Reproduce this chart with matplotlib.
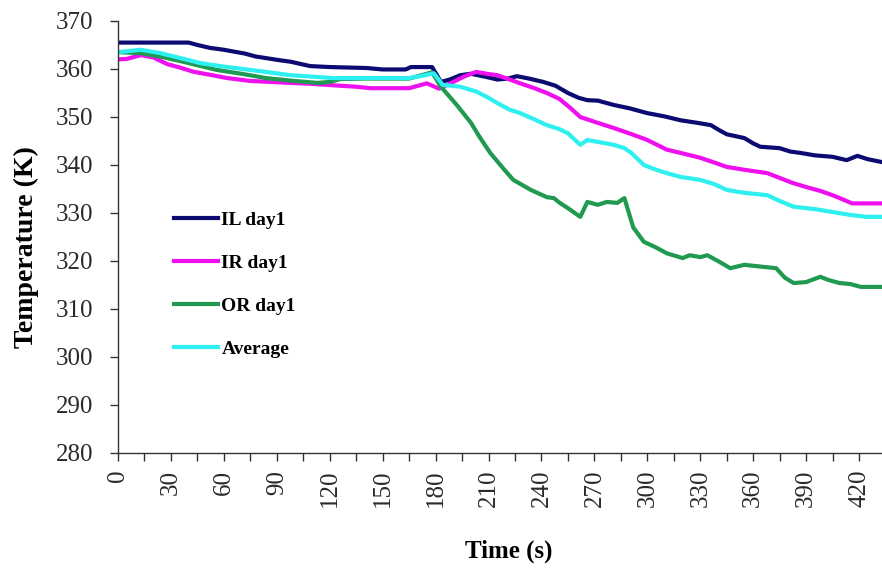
import numpy as np
import matplotlib
matplotlib.use("Agg")
import matplotlib.pyplot as plt
from matplotlib.ticker import MultipleLocator

plt.rcParams['font.family'] = ['Liberation Serif', 'DejaVu Serif']

# Temperature traces, (time s, temperature K)
il_day1 = [(0, 365.5), (40, 365.5), (45, 365.0), (52, 364.4), (60, 364.0), (66, 363.6),
           (72, 363.2), (78, 362.6), (85, 362.2), (92, 361.8), (98, 361.5), (104, 361.0),
           (109, 360.6), (120, 360.4), (141, 360.2), (150, 359.9), (163, 359.9), (166, 360.4),
           (178, 360.4), (183, 357.3), (188, 357.8), (194, 358.7), (200, 359.0), (208, 358.4),
           (215, 357.8), (221, 358.0), (226, 358.5), (233, 358.0), (241, 357.3), (248, 356.5),
           (255, 355.0), (261, 354.0), (266, 353.5), (272, 353.4), (281, 352.5), (290, 351.8),
           (300, 350.8), (310, 350.1), (319, 349.3), (328, 348.8), (336, 348.3), (341, 347.2),
           (345, 346.4), (350, 346.0), (355, 345.6), (360, 344.5), (364, 343.8), (375, 343.5),
           (381, 342.8), (387, 342.5), (395, 342.0), (405, 341.7), (413, 341.0), (419, 341.9),
           (425, 341.2), (433, 340.6)]

ir_day1 = [(0, 362.0), (5, 362.1), (13, 362.9), (20, 362.4), (28, 361.0), (35, 360.3),
           (43, 359.4), (52, 358.8), (62, 358.1), (75, 357.5), (98, 357.1), (110, 356.9),
           (122, 356.6), (135, 356.3), (143, 356.0), (165, 356.0), (175, 357.0), (182, 355.9),
           (190, 357.3), (196, 358.4), (203, 359.4), (209, 359.0), (215, 358.7), (222, 357.8),
           (228, 357.0), (236, 356.0), (243, 355.0), (250, 353.8), (256, 352.0), (262, 350.0),
           (270, 349.0), (281, 347.7), (292, 346.3), (300, 345.2), (311, 343.2), (319, 342.5),
           (330, 341.5), (338, 340.5), (345, 339.6), (355, 339.0), (368, 338.3), (375, 337.3),
           (382, 336.3), (390, 335.4), (398, 334.6), (405, 333.7), (411, 332.8), (416, 332.0),
           (433, 332.0)]

or_day1 = [(0, 363.5), (13, 363.3), (25, 362.5), (37, 361.5), (47, 360.6), (56, 359.8),
           (70, 359.0), (84, 358.1), (100, 357.5), (113, 357.1), (120, 357.3), (126, 357.9),
           (140, 358.0), (165, 358.0), (172, 358.7), (178, 359.3), (183, 356.3), (192, 352.5),
           (200, 348.8), (205, 345.8), (211, 342.5), (219, 339.0), (224, 336.9), (234, 334.8),
           (243, 333.3), (247, 333.1), (250, 332.2), (255, 331.0), (262, 329.2), (266, 332.3),
           (272, 331.7), (277, 332.3), (283, 332.1), (287, 333.1), (292, 327.0), (298, 324.0),
           (305, 322.8), (311, 321.6), (320, 320.6), (324, 321.2), (330, 320.8), (334, 321.2),
           (340, 320.0), (347, 318.5), (355, 319.2), (365, 318.8), (373, 318.5), (378, 316.5),
           (383, 315.4), (390, 315.6), (398, 316.7), (403, 316.0), (409, 315.4), (415, 315.2),
           (421, 314.6), (433, 314.6)]

average = [(0, 363.5), (13, 364.0), (24, 363.3), (35, 362.3), (47, 361.2), (60, 360.5),
           (75, 359.8), (98, 358.7), (110, 358.4), (122, 358.1), (165, 358.1), (170, 358.4),
           (179, 359.1), (184, 356.7), (194, 356.3), (203, 355.3), (210, 354.0), (215, 352.9),
           (222, 351.5), (228, 350.8), (236, 349.5), (243, 348.3), (250, 347.5), (255, 346.6),
           (262, 344.2), (266, 345.2), (275, 344.6), (281, 344.2), (287, 343.5), (291, 342.5),
           (298, 340.0), (305, 339.0), (311, 338.3), (319, 337.5), (330, 336.9), (338, 336.0),
           (345, 334.8), (355, 334.2), (368, 333.7), (375, 332.5), (383, 331.3), (395, 330.8),
           (405, 330.2), (415, 329.6), (424, 329.2), (433, 329.2)]

series = [("IL day1", il_day1, "#0b0b72"),
          ("IR day1", ir_day1, "#ee10ee"),
          ("OR day1", or_day1, "#1f9a50"),
          ("Average", average, "#2ef0f0")]

fig = plt.figure(figsize=(8.82, 5.70), dpi=100)
ax = fig.add_axes([0.1338, 0.2053, 0.8662, 0.7579])

for label, pts, col in series:
    arr = np.array(pts)
    ax.plot(arr[:, 0], arr[:, 1], color=col, lw=3.0, label=label, solid_joinstyle='round')

ax.set_xlim(0, 433)
ax.set_ylim(280, 370)
ax.xaxis.set_major_locator(MultipleLocator(30))
ax.xaxis.set_minor_locator(MultipleLocator(15))
ax.yaxis.set_major_locator(MultipleLocator(10))

for s in ['top', 'right']:
    ax.spines[s].set_visible(False)
for s in ['left', 'bottom']:
    ax.spines[s].set_color('#333333')
    ax.spines[s].set_linewidth(1.0)

ax.tick_params(axis='both', which='both', direction='out', length=6, width=1.0,
               color='#333333', labelcolor='#2a2a2a', labelsize=18)
ax.tick_params(axis='x', which='major', pad=6)
ax.tick_params(axis='y', which='major', pad=12)
plt.setp(ax.get_xticklabels(), rotation=90)

ax.set_xlabel("Time (s)", fontsize=18, fontweight='bold')
ax.set_ylabel("Temperature (K)", fontsize=20, fontweight='bold')
ax.xaxis.set_label_coords(0.512, -0.201)
ax.yaxis.set_label_coords(-0.103, 0.477)

leg = ax.legend(loc='upper left', bbox_to_anchor=(0.05, 0.60), frameon=False,
                prop={'weight': 'bold', 'size': 14}, handlelength=2.3,
                handletextpad=0.15, labelspacing=1.3)

fig.savefig("out.png", dpi=100)
